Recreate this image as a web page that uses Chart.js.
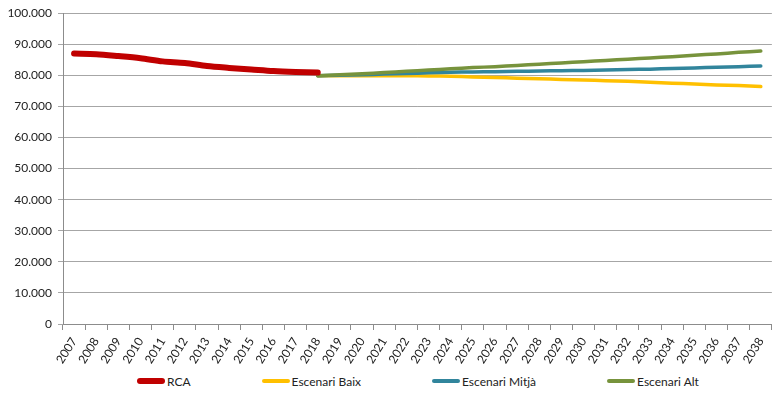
<!DOCTYPE html>
<html>
<head>
<meta charset="utf-8">
<script src="https://cdn.jsdelivr.net/npm/chart.js@4/dist/chart.umd.min.js"></script>
<style>
  html, body { margin: 0; padding: 0; background: #ffffff; }
  #page { position: relative; width: 778px; height: 403px; }
  #wrap { position: absolute; left: 0; top: 0; width: 778px; height: 368px; }
  #legend {
    position: absolute; left: 137px; top: 373px; height: 16px;
    display: flex; align-items: center;
    font: 12px Lato, sans-serif; color: #222;
  }
  .item { display: flex; align-items: center; margin-right: 71px; white-space: nowrap; }
  .swatch { display: inline-block; width: 28px; border-radius: 4px; margin-right: 2px; }
</style>
</head>
<body>
<div id="page">
  <div id="wrap"><canvas id="lineChart"></canvas></div>
  <div id="legend"></div>
</div>
<script>
// Years on the x axis
const years = ['2007', '2008', '2009', '2010', '2011', '2012', '2013', '2014', '2015', '2016',
    '2017', '2018', '2019', '2020', '2021', '2022', '2023', '2024', '2025', '2026', '2027',
    '2028', '2029', '2030', '2031', '2032', '2033', '2034', '2035', '2036', '2037', '2038'];

// Historical series 2007-2018
const rca = [87000, 86800, 86200, 85500, 84500, 84000, 83000, 82400, 81900, 81400, 81100, 80900];

// Scenarios 2018-2038
const escenariBaix = [79900, 79900, 79900, 79900, 79900, 79800, 79700, 79500, 79300, 79100, 78900,
    78700, 78500, 78300, 78100, 77800, 77500, 77200, 76900, 76700, 76400];
const escenariMitja = [79900, 80000, 80200, 80400, 80600, 80800, 81000, 81100, 81200, 81300, 81400,
    81500, 81600, 81700, 81900, 82000, 82200, 82400, 82600, 82800, 83000];
const escenariAlt = [79900, 80200, 80500, 80900, 81300, 81700, 82100, 82500, 82800, 83200, 83600,
    84000, 84400, 84800, 85200, 85600, 86000, 86500, 86900, 87400, 87800];

const yTicks = [0, 10000, 20000, 30000, 40000, 50000, 60000, 70000, 80000, 90000, 100000];

const startIdx = years.indexOf('2018');
const pad = (arr, offset) => years.map((y, i) => (i - offset >= 0 && i - offset < arr.length) ? arr[i - offset] : null);

function formatThousands(v) {
    return String(v).replace(/\B(?=(\d{3})+(?!\d))/g, '.');
}

const font = { family: 'Lato', size: 12 };

function makeDataset(label, data, color, width, order) {
    return {
        label: label,
        data: data,
        borderColor: color,
        backgroundColor: color,
        borderWidth: width,
        borderCapStyle: 'round',
        tension: 0.3,
        order: order
    };
}

const chart = new Chart(document.getElementById('lineChart'), {
    type: 'line',
    data: {
        labels: years,
        datasets: [
            makeDataset('RCA', pad(rca, 0), '#C00000', 6, 0),
            makeDataset('Escenari Baix', pad(escenariBaix, startIdx), '#FFC000', 3.5, 3),
            makeDataset('Escenari Mitjà', pad(escenariMitja, startIdx), '#31859C', 3.5, 2),
            makeDataset('Escenari Alt', pad(escenariAlt, startIdx), '#77933C', 3.5, 1)
        ]
    },
    options: {
        responsive: true,
        maintainAspectRatio: false,
        animation: false,
        elements: { point: { radius: 0, hoverRadius: 0 } },
        layout: { padding: { top: 6, right: 0, left: 0, bottom: 0 } },
        plugins: {
            tooltip: { enabled: false },
            legend: { display: false }
        },
        scales: {
            x: {
                offset: true,
                afterFit: (axis) => { axis.height = 44; },
                grid: {
                    offset: true,
                    drawOnChartArea: false,
                    drawTicks: true,
                    tickLength: 6,
                    color: '#8c8c8c'
                },
                border: { color: '#8c8c8c' },
                ticks: {
                    autoSkip: false,
                    maxRotation: 58,
                    minRotation: 58,
                    padding: 5,
                    color: '#222',
                    font: font
                }
            },
            y: {
                min: 0,
                max: 100000,
                afterBuildTicks: (axis) => { axis.ticks = yTicks.map(v => ({ value: v })); },
                afterFit: (axis) => { axis.width = 63; },
                grid: {
                    color: '#a6a6a6',
                    tickLength: 5,
                    lineWidth: 1
                },
                border: { color: '#8c8c8c' },
                ticks: {
                    padding: 6,
                    color: '#222',
                    font: font,
                    callback: (v) => formatThousands(v)
                }
            }
        }
    }
});

// HTML legend built from the datasets
const legendEl = document.getElementById('legend');
chart.data.datasets.forEach(ds => {
    const item = document.createElement('span');
    item.className = 'item';
    const sw = document.createElement('span');
    sw.className = 'swatch';
    sw.style.background = ds.borderColor;
    sw.style.height = ds.borderWidth + 'px';
    const txt = document.createElement('span');
    txt.textContent = ds.label;
    item.appendChild(sw);
    item.appendChild(txt);
    legendEl.appendChild(item);
});
</script>
</body>
</html>
